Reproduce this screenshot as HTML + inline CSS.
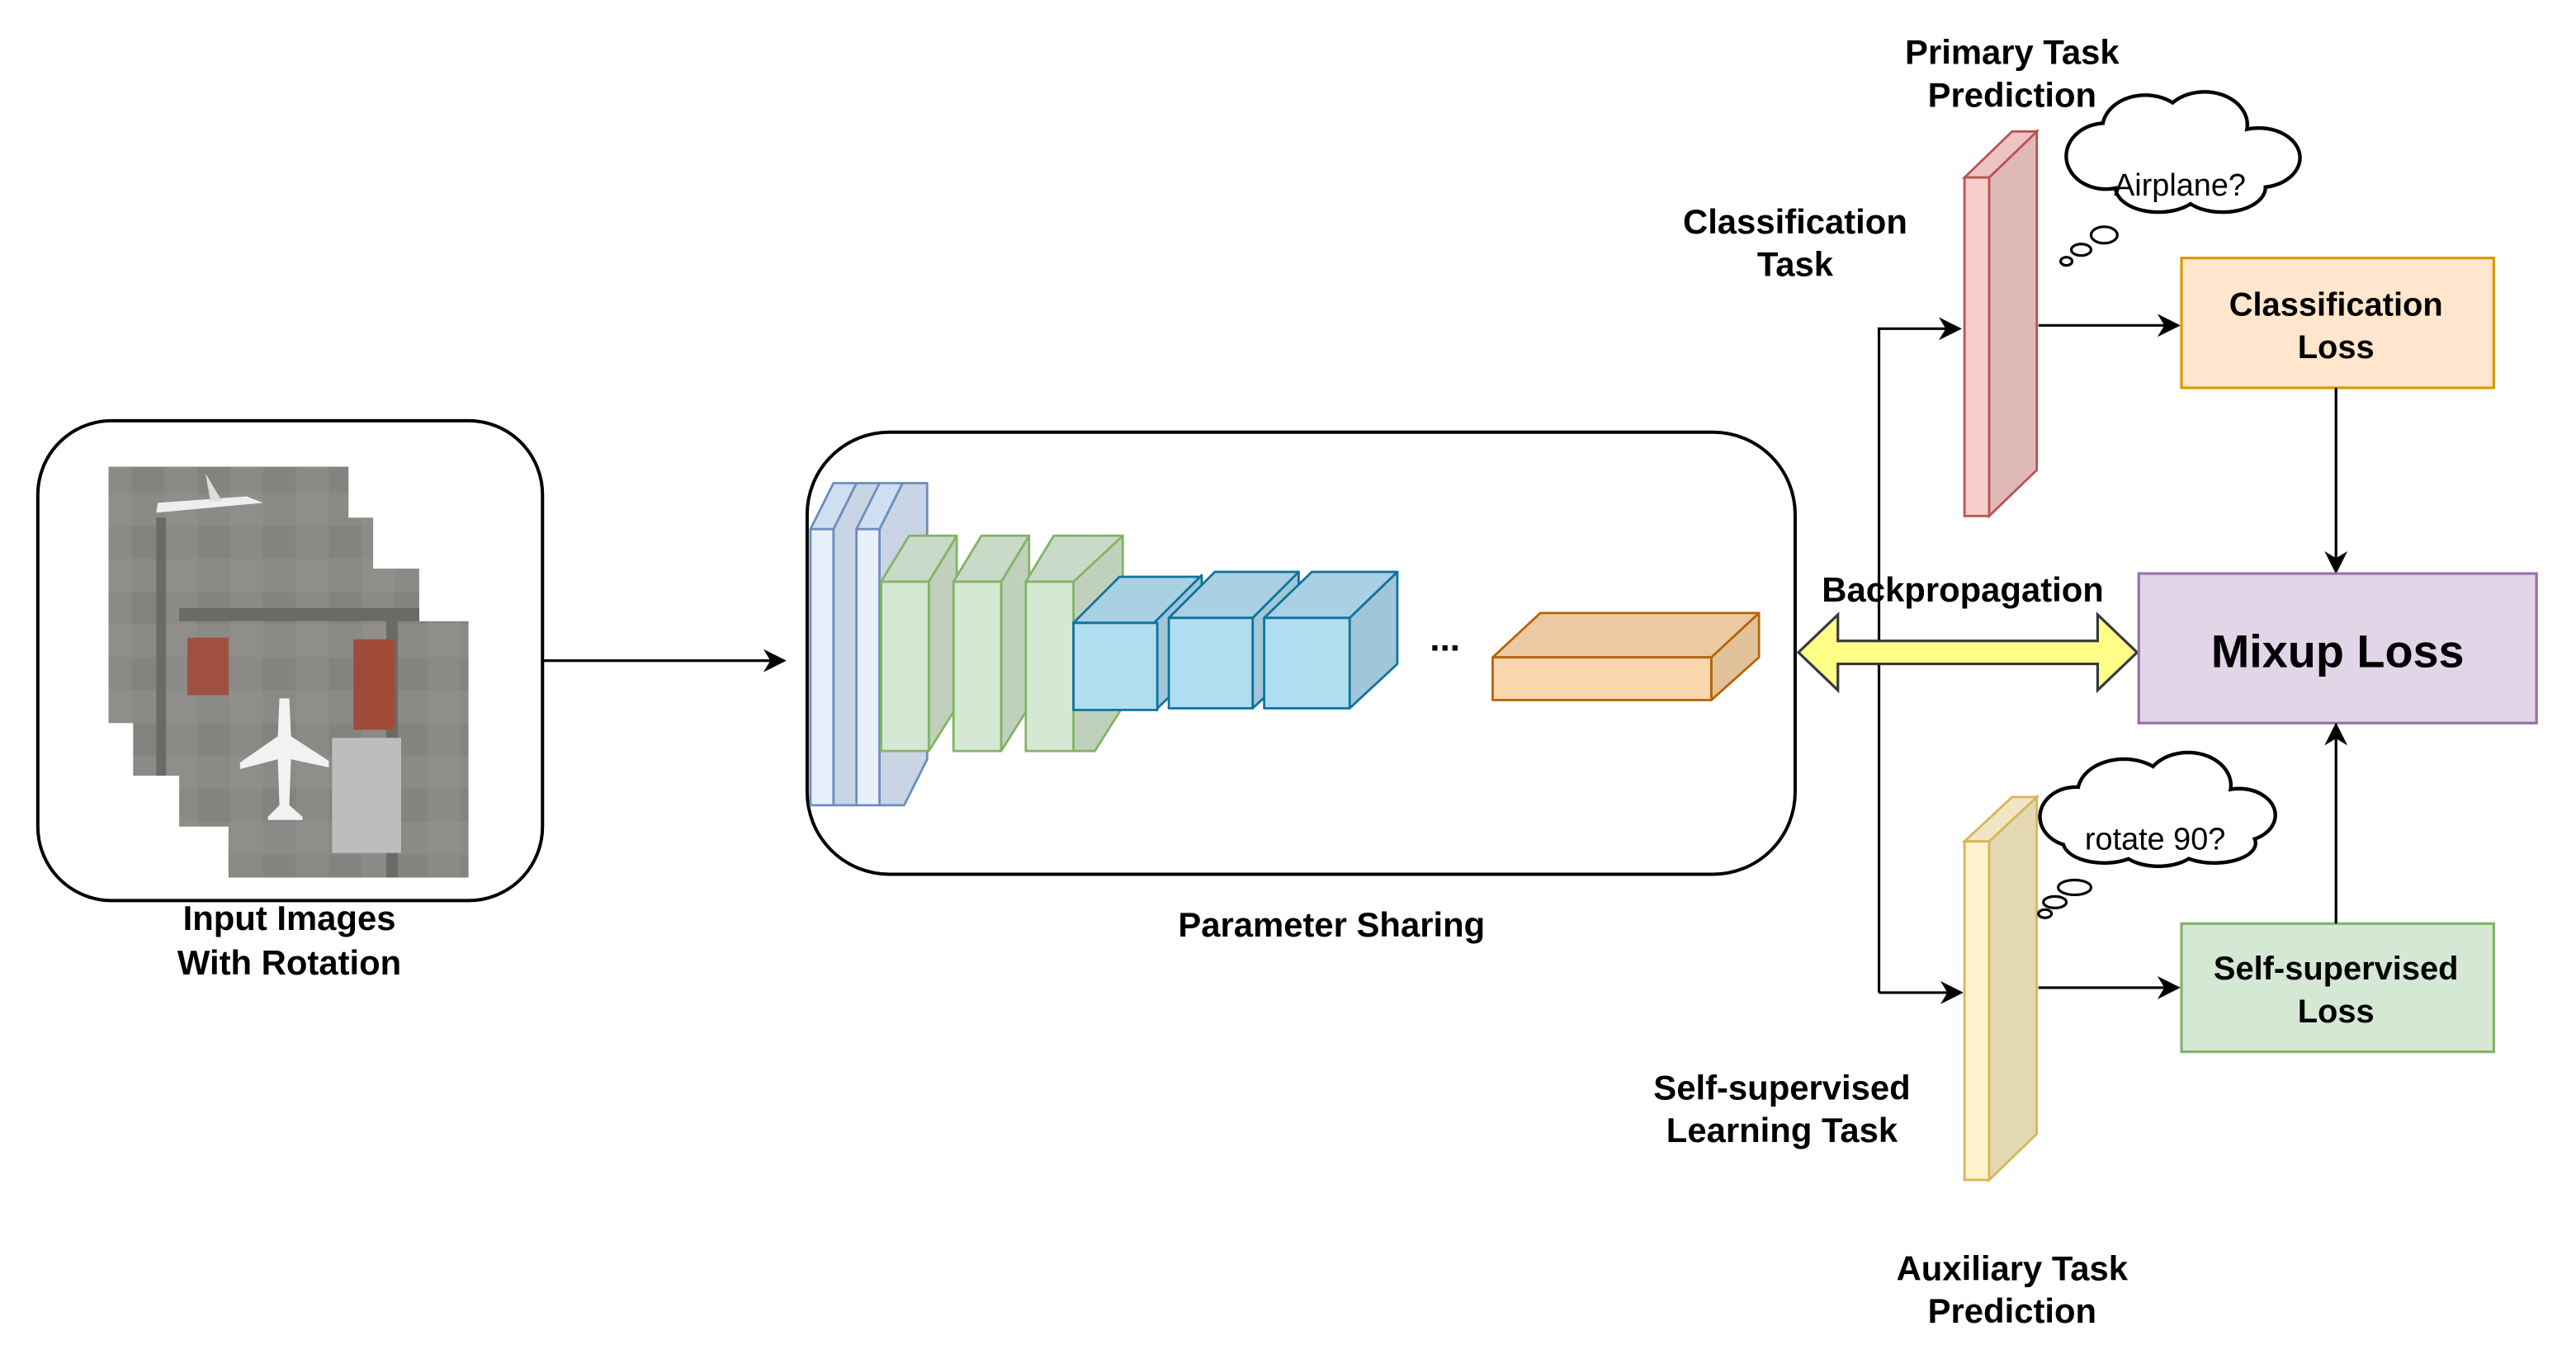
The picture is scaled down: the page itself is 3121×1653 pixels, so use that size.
<!DOCTYPE html>
<html><head><meta charset="utf-8"><style>
html,body{margin:0;padding:0;background:#fff}
svg{display:block}
text{font-family:"Liberation Sans",Arial,sans-serif}
.b{font-weight:bold;font-size:21px;text-anchor:middle}
</style></head><body>
<svg width="3121" height="1653" viewBox="0 0 1567 830" preserveAspectRatio="none" xmlns="http://www.w3.org/2000/svg">
<defs>
<marker id="ah" viewBox="0 0 10 10" refX="9" refY="5" markerWidth="14" markerHeight="14" markerUnits="userSpaceOnUse" orient="auto">
<path d="M0,0 L10,5 L0,10 L3,5 z" fill="#000"/></marker>
<pattern id="sat" width="40" height="40" patternUnits="userSpaceOnUse">
<rect width="40" height="40" fill="#8a8a86"/>
<rect x="0" y="0" width="20" height="20" fill="#838380"/>
<rect x="20" y="20" width="20" height="20" fill="#8f8e8a"/>
</pattern>
</defs>

<rect x="23" y="256" width="307" height="292" rx="45" fill="#fff" stroke="#000" stroke-width="2"/>
<g>
<rect x="66" y="284" width="146" height="156" fill="url(#sat)"/>
<path d="M95,312 L160,306 L150,302 L96,306 z" fill="#eee"/>
<path d="M125,288 L135,305 L128,305 z" fill="#ddd"/>
<rect x="81" y="315" width="146" height="157" fill="url(#sat)"/>
<rect x="95" y="315" width="6" height="157" fill="#6a6a66"/>
<rect x="109" y="346" width="146" height="157" fill="url(#sat)"/>
<rect x="109" y="370" width="146" height="8" fill="#6a6a66"/>
<rect x="114" y="388" width="30" height="35" fill="#a0503f"/>
<rect x="139" y="378" width="146" height="156" fill="url(#sat)"/>
<rect x="235" y="378" width="7" height="156" fill="#6a6a66"/>
<rect x="215" y="389" width="25" height="55" fill="#a24a3a"/>
<rect x="202" y="449" width="42" height="70" fill="#bdbdbd"/>
<path d="M170,425 L176,425 L177,448 L200,463 L200,467 L177,462 L176,490 L184,497 L184,499 L163,499 L163,497 L170,490 L169,462 L146,468 L146,464 L169,448 z" fill="#f2f2f2"/>
</g>
<text class="b" x="176" y="566">Input Images</text>
<text class="b" x="176" y="593">With Rotation</text>
<line x1="330" y1="402" x2="477" y2="402" stroke="#000" stroke-width="1.6" marker-end="url(#ah)"/>

<rect x="491" y="263" width="601" height="269" rx="50" fill="#fff" stroke="#000" stroke-width="2"/>
<g stroke-width="1.4" stroke-linejoin="round">
<g stroke="#6c8ebf">
<path d="M507,322 L521,294 L535,294 L535,462 L521,490 L507,490 z" fill="#c9d4e4"/>
<path d="M493,322 L507,294 L521,294 L507,322 z" fill="#d0def2"/>
<rect x="493" y="322" width="14" height="168" fill="#e8f0fd"/>
<path d="M535,322 L549,294 L564,294 L564,462 L550,490 L535,490 z" fill="#c9d4e4"/>
<path d="M521,322 L535,294 L549,294 L535,322 z" fill="#d0def2"/>
<rect x="521" y="322" width="14" height="168" fill="#e8f0fd"/>
</g>
<g stroke="#82b366">
<path d="M565,354 L582,326 L582,430 L565,457 z" fill="#bfd1bd"/>
<path d="M536,354 L553,326 L582,326 L565,354 z" fill="#c9dbc8"/>
<rect x="536" y="354" width="29" height="103" fill="#d5e8d4"/>
<path d="M609,354 L626,326 L626,430 L609,457 z" fill="#bfd1bd"/>
<path d="M580,354 L597,326 L626,326 L609,354 z" fill="#c9dbc8"/>
<rect x="580" y="354" width="29" height="103" fill="#d5e8d4"/>
<path d="M653,354 L670,326 L683,326 L683,430 L666,457 L653,457 z" fill="#bfd1bd"/>
<path d="M624,354 L641,326 L683,326 L653,354 z" fill="#c9dbc8"/>
<rect x="624" y="354" width="29" height="103" fill="#d5e8d4"/>
</g>
<g stroke="#10739e">
<path d="M703,378 L731,350 L731,405 L703,432 z" fill="#a0c6d8"/>
<path d="M653,379 L681,351 L730,351 L702,379 z" fill="#a9d1e3"/>
<rect x="653" y="379" width="51" height="53" fill="#b1ddf0"/>
<path d="M762,376 L790,348 L790,405 L762,431 z" fill="#a0c6d8"/>
<path d="M711,376 L739,348 L790,348 L762,376 z" fill="#a9d1e3"/>
<rect x="711" y="376" width="51" height="55" fill="#b1ddf0"/>
<path d="M821,376 L850,348 L850,404 L821,431 z" fill="#a0c6d8"/>
<path d="M769,376 L798,348 L850,348 L821,376 z" fill="#a9d1e3"/>
<rect x="769" y="376" width="52" height="55" fill="#b1ddf0"/>
</g>
<g stroke="#b46504">
<path d="M1041,400 L1070,373 L1070,400 L1041,426 z" fill="#e2c29b"/>
<path d="M908,400 L937,373 L1070,373 L1041,400 z" fill="#ecc9a0"/>
<rect x="908" y="400" width="133" height="26" fill="#fad7ac"/>
</g>
</g>
<text x="879" y="396" style="font-size:22px;font-weight:bold" text-anchor="middle">...</text>
<text class="b" x="810" y="570">Parameter Sharing</text>

<path d="M1143,604 L1143,200 L1192,200" fill="none" stroke="#000" stroke-width="1.6" marker-end="url(#ah)"/>
<line x1="1143" y1="604" x2="1193" y2="604" stroke="#000" stroke-width="1.6" marker-end="url(#ah)"/>
<path d="M1094,397 L1118,374 L1118,390 L1276,390 L1276,374 L1300,397 L1276,420 L1276,404 L1118,404 L1118,420 z" fill="#ffff88" stroke="#36393d" stroke-width="1.6"/>
<text class="b" x="1194" y="366">Backpropagation</text>

<g stroke="#b85450" stroke-width="1.4">
<path d="M1210,108 L1239,80 L1239,286 L1210,314 z" fill="#dfb9b8"/>
<path d="M1195,108 L1224,80 L1239,80 L1210,108 z" fill="#eec4c3"/>
<rect x="1195" y="108" width="15" height="206" fill="#f8cecc"/>
</g>
<g stroke="#d6b656" stroke-width="1.4">
<path d="M1210,512 L1239,485 L1239,690 L1210,718 z" fill="#e4d7b4"/>
<path d="M1195,512 L1224,485 L1239,485 L1210,512 z" fill="#f0e6c5"/>
<rect x="1195" y="512" width="15" height="206" fill="#fff2cc"/>
</g>
<line x1="1240" y1="198" x2="1325" y2="198" stroke="#000" stroke-width="1.6" marker-end="url(#ah)"/>
<line x1="1240" y1="601" x2="1325" y2="601" stroke="#000" stroke-width="1.6" marker-end="url(#ah)"/>

<rect x="1327" y="157" width="190" height="79" fill="#ffe6cc" stroke="#d79b00" stroke-width="1.6"/>
<text class="b" x="1421" y="192" style="font-size:20px">Classification</text>
<text class="b" x="1421" y="218" style="font-size:20px">Loss</text>
<line x1="1421" y1="236" x2="1421" y2="348" stroke="#000" stroke-width="1.6" marker-end="url(#ah)"/>
<rect x="1301" y="349" width="242" height="91" fill="#e1d5e7" stroke="#9673a6" stroke-width="1.6"/>
<text class="b" x="1422" y="406" style="font-size:28px">Mixup Loss</text>
<rect x="1327" y="562" width="190" height="78" fill="#d5e8d4" stroke="#82b366" stroke-width="1.6"/>
<text class="b" x="1421" y="596" style="font-size:20px">Self-supervised</text>
<text class="b" x="1421" y="622" style="font-size:20px">Loss</text>
<line x1="1421" y1="562" x2="1421" y2="441" stroke="#000" stroke-width="1.6" marker-end="url(#ah)"/>

<g stroke="#000" stroke-width="2.4" fill="#fff">
<ellipse cx="1281" cy="95" rx="24" ry="20"/><ellipse cx="1305" cy="78" rx="26" ry="20"/>
<ellipse cx="1341" cy="76" rx="26" ry="20"/><ellipse cx="1374" cy="96" rx="25" ry="18"/>
<ellipse cx="1352" cy="114" rx="26" ry="15"/><ellipse cx="1313" cy="114" rx="26" ry="15"/>
</g>
<g fill="#fff">
<ellipse cx="1281" cy="95" rx="23" ry="19"/><ellipse cx="1305" cy="78" rx="25" ry="19"/>
<ellipse cx="1341" cy="76" rx="25" ry="19"/><ellipse cx="1374" cy="96" rx="24" ry="17"/>
<ellipse cx="1352" cy="114" rx="25" ry="14"/><ellipse cx="1313" cy="114" rx="25" ry="14"/>
<ellipse cx="1327" cy="96" rx="50" ry="22"/>
</g>
<g fill="#fff" stroke="#000" stroke-width="1.6">
<ellipse cx="1280" cy="143" rx="8" ry="5"/><ellipse cx="1266" cy="152" rx="6" ry="3.5"/><ellipse cx="1257" cy="159" rx="3.5" ry="2.5"/>
</g>
<text x="1326" y="119" text-anchor="middle" style="font-size:19px">Airplane?</text>

<g stroke="#000" stroke-width="2.4" fill="#fff">
<ellipse cx="1263" cy="497" rx="22" ry="18"/><ellipse cx="1292" cy="482" rx="28" ry="20"/>
<ellipse cx="1331" cy="478" rx="26" ry="20"/><ellipse cx="1362" cy="496" rx="22" ry="16"/>
<ellipse cx="1347" cy="513" rx="25" ry="12"/><ellipse cx="1313" cy="514" rx="24" ry="13"/><ellipse cx="1280" cy="512" rx="25" ry="13"/>
</g>
<g fill="#fff">
<ellipse cx="1263" cy="497" rx="21" ry="17"/><ellipse cx="1292" cy="482" rx="27" ry="19"/>
<ellipse cx="1331" cy="478" rx="25" ry="19"/><ellipse cx="1362" cy="496" rx="21" ry="15"/>
<ellipse cx="1347" cy="513" rx="24" ry="11"/><ellipse cx="1313" cy="514" rx="23" ry="12"/><ellipse cx="1280" cy="512" rx="24" ry="12"/>
<ellipse cx="1312" cy="497" rx="50" ry="18"/>
</g>
<g fill="#fff" stroke="#000" stroke-width="1.6">
<ellipse cx="1262" cy="540" rx="10" ry="4.5"/><ellipse cx="1250" cy="549" rx="7" ry="3.5"/><ellipse cx="1244" cy="556" rx="4" ry="2.5"/>
</g>
<text x="1311" y="517" text-anchor="middle" style="font-size:19px">rotate 90?</text>

<text class="b" x="1224" y="39">Primary Task</text>
<text class="b" x="1224" y="65">Prediction</text>
<text class="b" x="1092" y="142">Classification</text>
<text class="b" x="1092" y="168">Task</text>
<text class="b" x="1084" y="669">Self-supervised</text>
<text class="b" x="1084" y="695">Learning Task</text>
<text class="b" x="1224" y="779">Auxiliary Task</text>
<text class="b" x="1224" y="805">Prediction</text>
</svg>
</body></html>
